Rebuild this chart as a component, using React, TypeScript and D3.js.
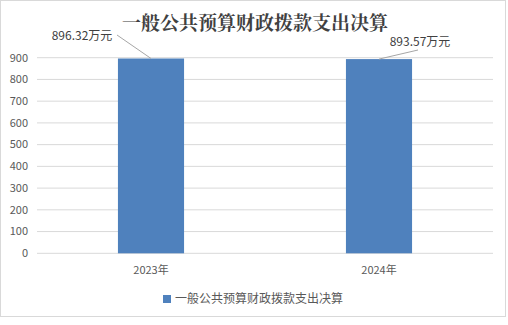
import React from "react";
import * as d3 from "d3";

const categories = ["2023年", "2024年"];
const values = [896.32, 893.57];
const valueLabels = ["896.32万元", "893.57万元"];
const yTicks = [0, 100, 200, 300, 400, 500, 600, 700, 800, 900];
const title = "一般公共预算财政拨款支出决算";
const seriesName = "一般公共预算财政拨款支出决算";

export default function App() {
  const W = 508, H = 325;
  const x = d3.scaleBand<string>().domain(categories).range([37, 493]).paddingInner(0.71).paddingOuter(0.355);
  const y = d3.scaleLinear().domain([0, 900]).range([253.3, 57.7]);
  const font = "'Microsoft YaHei', 'Noto Sans CJK SC', 'DejaVu Sans', sans-serif";
  const labelPos = [
    { tx: 82, ty: 40, lx1: 117, ly1: 35 },
    { tx: 420, ty: 46, lx1: 418, ly1: 50 },
  ];
  return (
    <svg width={W} height={H} style={{ position: "absolute", left: 0, top: 0, display: "block" }}>
      <rect x={0} y={0} width={W} height={H} fill="#fff" />
      <rect x={0.5} y={0.5} width={505} height={316} fill="#fff" stroke="#d9d9d9" />
      {yTicks.map((t) => (
        <g key={t}>
          <line x1={37} x2={493} y1={y(t)} y2={y(t)} stroke="#d9d9d9" strokeWidth={1} />
          <text x={28} y={y(t)} dy="0.35em" textAnchor="end" fontSize={11} fill="#595959" fontFamily={font}>{t}</text>
        </g>
      ))}
      {categories.map((c, i) => (
        <rect key={c} x={x(c)!} y={y(values[i])} width={x.bandwidth()} height={y(0) - y(values[i])} fill="#4f81bd" />
      ))}
      {categories.map((c) => (
        <text key={c} x={x(c)! + x.bandwidth() / 2} y={270} dy="0.35em" textAnchor="middle" fontSize={11} fill="#595959" fontFamily={font}>{c}</text>
      ))}
      {categories.map((c, i) => {
        const p = labelPos[i];
        const cx = x(c)! + x.bandwidth() / 2;
        return (
          <g key={"l" + c}>
            <line x1={p.lx1} y1={p.ly1} x2={cx} y2={y(values[i])} stroke="#a6a6a6" strokeWidth={1} />
            <text x={p.tx} y={p.ty - 4} dy="0.35em" textAnchor="middle" fontSize={12} fill="#404040" fontFamily={font}>{valueLabels[i]}</text>
          </g>
        );
      })}
      <text x={255} y={23} dy="0.35em" textAnchor="middle" fontSize={19} fontWeight="bold" fill="#404040" fontFamily="'Noto Serif CJK SC', 'Noto Sans CJK SC', serif">{title}</text>
      <rect x={163} y={295} width={8} height={8} fill="#4f81bd" />
      <text x={175} y={299} dy="0.35em" fontSize={12} fill="#595959" fontFamily={font}>{seriesName}</text>
    </svg>
  );
}
